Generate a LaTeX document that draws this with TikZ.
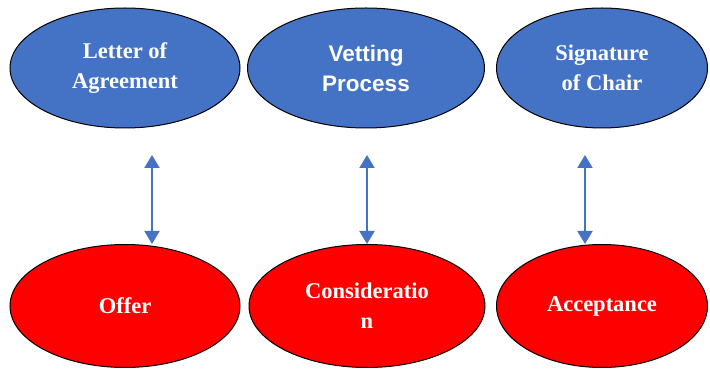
\documentclass[tikz,border=0pt]{standalone}
\usepackage{fontspec}
\setmainfont{Liberation Serif}
\newfontfamily\arialfont{Liberation Sans}
\usetikzlibrary{shapes.geometric,arrows.meta}
\definecolor{officeblue}{HTML}{4472C4}

\begin{document}
\begin{tikzpicture}[x=1pt, y=-1pt,
  bluebox/.style={ellipse, draw=black, line width=1pt, fill=officeblue, text=white, inner sep=0pt,
    align=center, font=\bfseries\fontsize{22.5}{30}\selectfont},
  redbox/.style={bluebox, fill=red},
  link/.style={officeblue, line width=2pt, {Triangle[width=15pt,length=13pt]}-{Triangle[width=15pt,length=13pt]}}]

\useasboundingbox (0,0) rectangle (710,371);

\node [bluebox, minimum width=230pt, minimum height=120pt] (letter) at (125,68) {Letter of\\Agreement};
\node [bluebox, minimum width=237pt, minimum height=120pt, font=\arialfont\bfseries\fontsize{22.5}{30}\selectfont] (vetting) at (366,68) {Vetting\\Process};
\node [bluebox, minimum width=211pt, minimum height=120pt] (chair) at (602,68) {Signature\\of Chair};

\node [redbox, minimum width=230pt, minimum height=123pt] (offer) at (125,306) {Offer};
\node [redbox, minimum width=236pt, minimum height=123pt] (consid) at (367,306) {Consideratio\\n};
\node [redbox, minimum width=211pt, minimum height=123pt] (accept) at (602,306) {Acceptance};

\coordinate (t1) at (152,155);
\coordinate (b1) at (152,244);
\coordinate (t2) at (367,155);
\coordinate (b2) at (367,244);
\coordinate (t3) at (585,155);
\coordinate (b3) at (585,244);

\draw [link] (t1) -- (b1);
\draw [link] (t2) -- (b2);
\draw [link] (t3) -- (b3);

\end{tikzpicture}
\end{document}
